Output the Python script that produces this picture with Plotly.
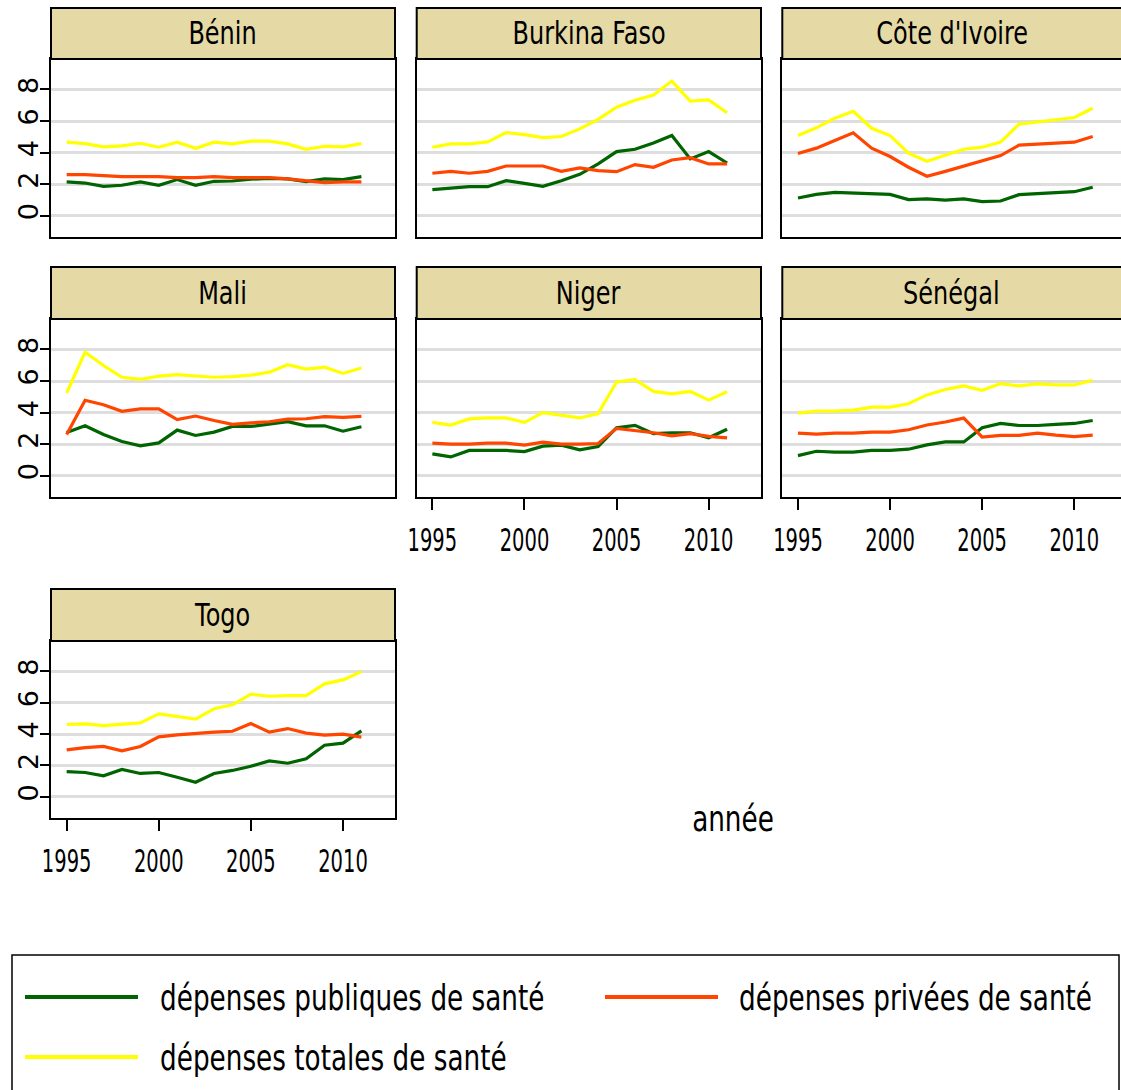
import plotly.graph_objects as go

W, H = 1121, 1090

years = list(range(1995, 2012))
countries = ["Bénin", "Burkina Faso", "Côte d'Ivoire", "Mali", "Niger", "Sénégal", "Togo"]

# Dépenses publiques de santé (% du PIB)
benin_pub = [2.14, 2.07, 1.86, 1.93, 2.14, 1.93, 2.29, 1.93, 2.18, 2.20, 2.31, 2.37, 2.33, 2.16, 2.33, 2.29, 2.48]
burkina_pub = [1.65, 1.74, 1.84, 1.84, 2.22, 2.05, 1.86, 2.22, 2.62, 3.28, 4.06, 4.21, 4.61, 5.08, 3.60, 4.06, 3.34]
civ_pub = [1.12, 1.35, 1.48, 1.44, 1.35, 1.35, 1.02, 1.06, 0.99, 1.06, 0.89, 0.93, 1.33, 1.40, 1.46, 1.52, 1.80]
mali_pub = [2.74, 3.16, 2.61, 2.17, 1.89, 2.08, 2.89, 2.55, 2.76, 3.12, 3.12, 3.25, 3.42, 3.16, 3.16, 2.82, 3.10]
niger_pub = [1.38, 1.19, 1.60, 1.60, 1.60, 1.53, 1.87, 1.94, 1.64, 1.85, 3.04, 3.19, 2.66, 2.72, 2.72, 2.40, 2.94]
senegal_pub = [1.27, 1.55, 1.49, 1.49, 1.61, 1.61, 1.68, 1.95, 2.14, 2.14, 3.04, 3.31, 3.18, 3.18, 3.25, 3.31, 3.50]
togo_pub = [1.61, 1.55, 1.34, 1.74, 1.49, 1.55, 1.25, 0.93, 1.49, 1.68, 1.95, 2.29, 2.14, 2.42, 3.29, 3.42, 4.20]

# Dépenses privées de santé (% du PIB)
benin_priv = [2.60, 2.60, 2.54, 2.48, 2.48, 2.48, 2.41, 2.41, 2.48, 2.41, 2.41, 2.41, 2.33, 2.20, 2.10, 2.14, 2.14]
burkina_priv = [2.69, 2.81, 2.69, 2.81, 3.15, 3.15, 3.15, 2.81, 3.03, 2.86, 2.79, 3.24, 3.07, 3.53, 3.68, 3.28, 3.28]
civ_priv = [3.94, 4.28, 4.76, 5.25, 4.28, 3.75, 3.07, 2.50, 2.81, 3.13, 3.47, 3.81, 4.47, 4.53, 4.59, 4.66, 5.02]
mali_priv = [2.61, 4.78, 4.50, 4.08, 4.23, 4.23, 3.55, 3.78, 3.50, 3.25, 3.35, 3.42, 3.59, 3.61, 3.74, 3.69, 3.76]
niger_priv = [2.06, 2.00, 2.00, 2.06, 2.06, 1.94, 2.13, 2.00, 2.00, 2.04, 3.00, 2.87, 2.72, 2.53, 2.66, 2.49, 2.40]
senegal_priv = [2.70, 2.63, 2.70, 2.70, 2.76, 2.76, 2.91, 3.21, 3.40, 3.65, 2.44, 2.55, 2.55, 2.70, 2.57, 2.48, 2.57]
togo_priv = [2.99, 3.14, 3.21, 2.93, 3.21, 3.82, 3.95, 4.06, 4.12, 4.18, 4.67, 4.12, 4.35, 4.06, 3.93, 3.99, 3.80]

# Dépenses totales de santé (% du PIB)
benin_tot = [4.66, 4.57, 4.36, 4.42, 4.59, 4.34, 4.66, 4.27, 4.66, 4.55, 4.72, 4.72, 4.55, 4.21, 4.40, 4.36, 4.57]
burkina_tot = [4.34, 4.55, 4.55, 4.68, 5.27, 5.14, 4.95, 5.02, 5.50, 6.10, 6.88, 7.32, 7.64, 8.53, 7.26, 7.34, 6.52]
civ_tot = [5.08, 5.57, 6.18, 6.62, 5.54, 5.08, 3.96, 3.45, 3.83, 4.21, 4.34, 4.66, 5.80, 5.93, 6.05, 6.22, 6.81]
mali_tot = [5.24, 7.83, 6.98, 6.24, 6.11, 6.31, 6.41, 6.31, 6.24, 6.28, 6.37, 6.56, 7.03, 6.75, 6.88, 6.48, 6.82]
niger_tot = [3.38, 3.21, 3.60, 3.66, 3.66, 3.38, 4.00, 3.85, 3.66, 3.94, 5.94, 6.09, 5.34, 5.19, 5.34, 4.79, 5.32]
senegal_tot = [3.97, 4.10, 4.10, 4.16, 4.35, 4.35, 4.56, 5.12, 5.46, 5.69, 5.41, 5.84, 5.69, 5.82, 5.75, 5.75, 6.05]
togo_tot = [4.61, 4.65, 4.54, 4.65, 4.71, 5.29, 5.14, 4.95, 5.61, 5.86, 6.54, 6.41, 6.45, 6.45, 7.20, 7.45, 7.98]

x_ticks = [1995, 2000, 2005, 2010]
y_ticks = [0, 2, 4, 6, 8]

series_names = ["dépenses publiques de santé", "dépenses privées de santé", "dépenses totales de santé"]
series_colors = ["#006400", "#FF4500", "#FFFF00"]

public = [benin_pub, burkina_pub, civ_pub, mali_pub, niger_pub, senegal_pub, togo_pub]
private = [benin_priv, burkina_priv, civ_priv, mali_priv, niger_priv, senegal_priv, togo_priv]
total = [benin_tot, burkina_tot, civ_tot, mali_tot, niger_tot, senegal_tot, togo_tot]

FONT = "DejaVu Sans, sans-serif"
STRIP_FILL = "#E5D9A5"
GRID = "#DEDEDE"


def fx(p):
    return p / W


def fy(p):
    return 1 - p / H


# panel geometry in pixels
col_px = [(51, 395), (416.7, 761), (782.3, W)]
row_plot_px = [(59, 237), (319, 497), (641, 818)]
row_strip_px = [(8, 59), (267, 319), (589, 641)]
cells = [(0, 0), (0, 1), (0, 2), (1, 0), (1, 1), (1, 2), (2, 0)]
bottom_panels = {4, 5, 6}

x0_year = 1994.15
px_per_year = (761 - 416.7) / (2012.84 - 1994.15)
y_range = [-1.35, 9.93]

fig = go.Figure()
shapes = []
annotations = []

for i, name in enumerate(countries):
    r, c = cells[i]
    xa = "x" if i == 0 else f"x{i + 1}"
    ya = "y" if i == 0 else f"y{i + 1}"
    for vals, sname, col in zip((public[i], private[i], total[i]), series_names, series_colors):
        fig.add_trace(go.Scatter(
            x=years, y=vals, mode="lines", name=sname,
            line=dict(color=col, width=3.2), xaxis=xa, yaxis=ya,
            showlegend=False, hoverinfo="skip",
        ))

    left, right = col_px[c]
    top, bottom = row_plot_px[r]
    x_hi = x0_year + (right - left) / px_per_year
    key = "" if i == 0 else str(i + 1)

    show_x = i in bottom_panels
    fig.layout["xaxis" + key] = dict(
        domain=[fx(left), fx(right)], range=[x0_year, x_hi], anchor=ya,
        automargin=False,
        showgrid=False, zeroline=False, showline=True, linecolor="black", linewidth=2,
        mirror=True,
        tickmode="array", tickvals=x_ticks if show_x else [],
        ticks="outside" if show_x else "", ticklen=11, tickwidth=2, tickcolor="black",
        showticklabels=show_x, ticklabelstandoff=3,
        tickfont=dict(family=FONT, size=32, color="black"),
    )
    show_y = c == 0
    fig.layout["yaxis" + key] = dict(
        domain=[fy(bottom), fy(top)], range=y_range, anchor=xa,
        automargin=False,
        showgrid=True, gridcolor=GRID, gridwidth=3, zeroline=False,
        showline=True, linecolor="black", linewidth=2, mirror=(c != 2),
        tickmode="array", tickvals=y_ticks,
        ticks="outside" if show_y else "", ticklen=9, tickwidth=2, tickcolor="black",
        showticklabels=show_y, tickangle=-90, ticklabelstandoff=-9,
        tickfont=dict(family=FONT, size=27, color="black"),
    )

    # title strip above each panel
    s_top, s_bot = row_strip_px[r]
    s_right = right if c != 2 else W + 10
    shapes.append(dict(
        type="rect", xref="paper", yref="paper",
        x0=fx(left), x1=fx(s_right), y0=fy(s_bot), y1=fy(s_top),
        fillcolor=STRIP_FILL, line=dict(color="black", width=2), layer="above",
    ))
    annotations.append(dict(
        text=name, xref="paper", yref="paper",
        x=fx((left + right) / 2), y=fy((s_top + s_bot) / 2),
        xanchor="center", yanchor="middle", showarrow=False,
        font=dict(family=FONT, size=32, color="black"),
    ))

# shared x axis title
annotations.append(dict(
    text="année", xref="paper", yref="paper", x=fx(733), y=fy(818),
    xanchor="center", yanchor="middle", showarrow=False,
    font=dict(family=FONT, size=36, color="black"),
))

# legend box with keys
shapes.append(dict(
    type="rect", xref="paper", yref="paper",
    x0=fx(12), x1=fx(1119), y0=fy(H + 10), y1=fy(955),
    fillcolor="white", line=dict(color="black", width=1.5), layer="above",
))
legend_keys = [(25, 138, 158, 997), (605, 718, 737, 997), (25, 138, 158, 1057)]
for (lx0, lx1, tx, ly), sname, col in zip(legend_keys, series_names, series_colors):
    shapes.append(dict(
        type="line", xref="paper", yref="paper",
        x0=fx(lx0), x1=fx(lx1), y0=fy(ly), y1=fy(ly),
        line=dict(color=col, width=4), layer="above",
    ))
    annotations.append(dict(
        text=sname, xref="paper", yref="paper", x=fx(tx), y=fy(ly),
        xanchor="left", yanchor="middle", showarrow=False,
        font=dict(family=FONT, size=36, color="black"),
    ))

fig.update_layout(
    width=W, height=H, margin=dict(l=0, r=0, t=0, b=0),
    paper_bgcolor="white", plot_bgcolor="white",
    shapes=shapes, annotations=annotations, showlegend=False,
)

# condensed lettering: narrow each horizontal label around its own anchor
condense_js = """
var gd = document.getElementById('{plot_id}');
function condense(el, s, where) {
  var bb = el.getBBox();
  var cx = where === 'left' ? bb.x : bb.x + bb.width / 2;
  var t = el.getAttribute('transform') || '';
  el.setAttribute('transform', t + ' translate(' + cx + ',0) scale(' + s + ',1) translate(' + (-cx) + ',0)');
}
gd.querySelectorAll('text').forEach(function (el) {
  var p = el.parentNode;
  var cls = p && p.getAttribute ? (p.getAttribute('class') || '') : '';
  if (/(^|\\s)x\\d*tick(\\s|$)/.test(cls)) condense(el, 0.61, 'center');
});
gd.querySelectorAll('g.annotation').forEach(function (g) {
  var i = +g.getAttribute('data-index');
  var a = gd.layout.annotations[i];
  var el = g.querySelector('text.annotation-text');
  var s = a.xanchor === 'left' || a.text === 'année' ? 0.73 : 0.75;
  if (el) condense(el, s, a.xanchor === 'left' ? 'left' : 'center');
});
"""

fig.write_html("out.html", post_script=condense_js)
